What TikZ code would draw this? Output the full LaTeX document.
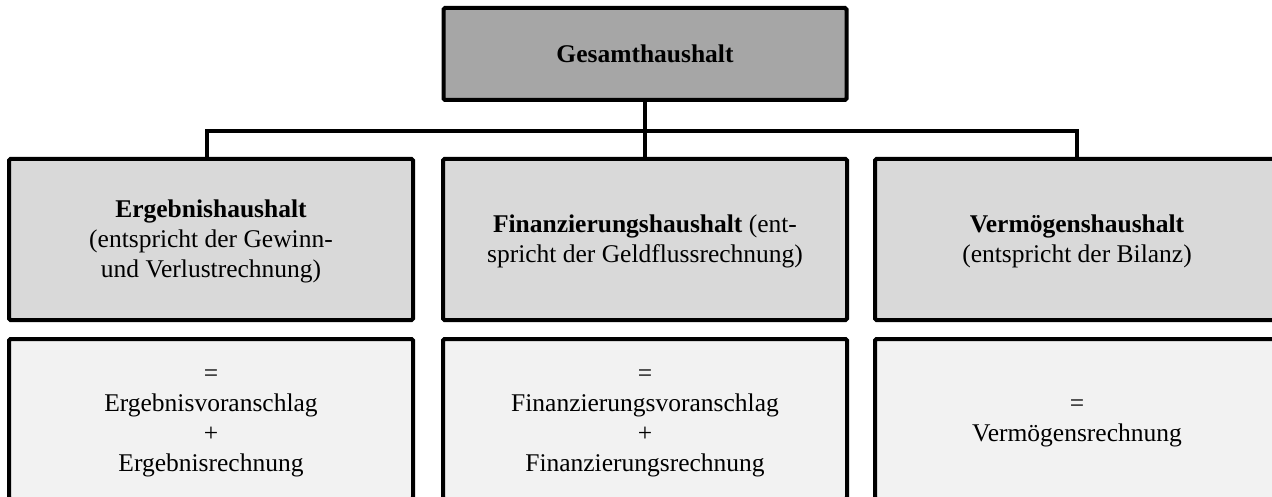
\documentclass[tikz,border=0pt]{standalone}
\usepackage{fontspec}
\setmainfont{Liberation Serif}
\definecolor{topgray}{HTML}{A6A6A6}
\definecolor{midgray}{HTML}{D9D9D9}
\definecolor{lowgray}{HTML}{F2F2F2}
\tikzset{
  box/.style={draw=black, line width=4pt, rounded corners=1.5pt, align=center,
    font=\fontsize{25.5}{30}\selectfont, inner sep=0pt},
  topbox/.style={box, fill=topgray, minimum width=403pt, minimum height=92pt},
  midbox/.style={box, fill=midgray, minimum width=404pt, minimum height=161pt},
  lowbox/.style={box, fill=lowgray, minimum width=404pt, minimum height=160pt},
  conn/.style={draw=black, line width=4.5pt, line join=miter}
}
\begin{document}
\begin{tikzpicture}[x=1pt,y=-1pt]
\useasboundingbox (0,0) rectangle (1272,497);
\clip (0,0) rectangle (1272,497);
\fill[white] (0,0) rectangle (1272,497);
\node[topbox] (top) at (645,54) {\textbf{Gesamthaushalt}};
\node[midbox] (e1) at (211,239.5) {\strut\textbf{Ergebnishaushalt}\\(entspricht der Gewinn-\\und Verlustrechnung)};
\node[midbox] (f1) at (645,239.5) {\strut\textbf{Finanzierungshaushalt} (ent-\\spricht der Geldflussrechnung)};
\node[midbox] (v1) at (1077,239.5) {\strut\textbf{Vermögenshaushalt}\\(entspricht der Bilanz)};
\node[lowbox] (e2) at (211,419) {\strut=\\Ergebnisvoranschlag\\+\\Ergebnisrechnung};
\node[lowbox] (f2) at (645,419) {\strut=\\Finanzierungsvoranschlag\\+\\Finanzierungsrechnung};
\node[lowbox] (v2) at (1077,419) {\strut=\\Vermögensrechnung};
\coordinate (bar) at (645,131);
\draw[conn] (top.south) -- (f1.north);
\draw[conn] ([xshift=-4pt]e1.north) -- ([xshift=-4pt]e1.north |- bar) -- (v1.north |- bar) -- (v1.north);
\end{tikzpicture}
\end{document}
